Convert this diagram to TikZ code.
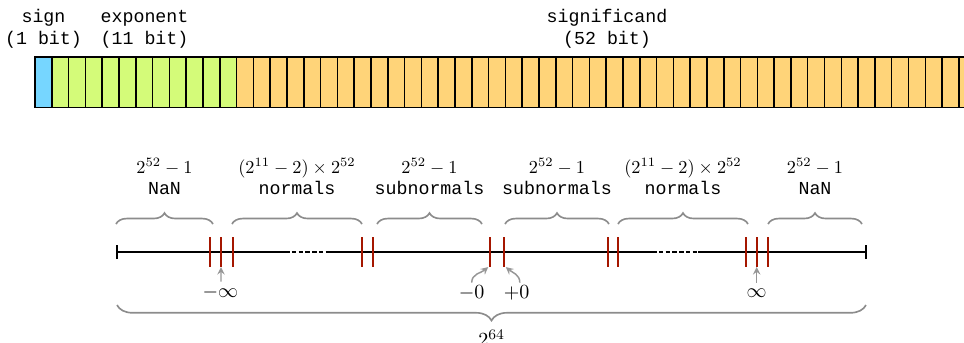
\documentclass[tikz,border=0pt]{standalone}
\usepackage{fontspec}
\setmonofont{Liberation Mono}
\usetikzlibrary{decorations.pathreplacing}
\definecolor{skyc}{RGB}{118,214,255}
\definecolor{dewc}{RGB}{212,251,121}
\definecolor{melc}{RGB}{255,212,121}
\definecolor{tickred}{RGB}{165,22,0}
\definecolor{bracegray}{RGB}{140,140,140}
\definecolor{arrowgray}{RGB}{150,150,150}
\begin{document}
\begin{tikzpicture}[
  cellline/.style={line width=0.8pt},
  bitlbl/.style={align=center,font=\ttfamily},
  numline/.style={thick},
  redtick/.style={line width=1.1pt,draw=tickred},
  brc/.style={decorate,decoration={brace,amplitude=6pt},draw=bracegray,line width=0.9pt},
  brlbl/.style={midway,above=12pt,align=center},
  ptlbl/.style={font=\fontsize{11}{13}\selectfont},
  ptarrow/.style={-stealth,draw=arrowgray,line width=0.8pt}]
\useasboundingbox (0,0) rectangle (18.53,-6.593);
\clip (0,0) rectangle (18.53,-6.593);
% the 64 bits
\node[bitlbl] (sgn) at (0.836,-0.557) {sign\\(1 bit)};
\node[bitlbl] (expo) at (2.778,-0.557) {exponent\\(11 bit)};
\node[bitlbl] (sig) at (11.668,-0.557) {significand\\(52 bit)};
\begin{scope}[shift={(0.673,-2.066)}]
\fill[skyc] (0,0) rectangle (0.3229,0.971);
\fill[dewc] (0.3229,0) rectangle (3.8748,0.971);
\fill[melc] (3.8748,0) rectangle (20.666,0.971);
\draw[cellline] (0,0) grid[xstep=0.3229,ystep=0.971] (20.666,0.971);
\draw[cellline] (0,0) rectangle (20.666,0.971);
\end{scope}
% number line
\coordinate (L) at (2.249,-4.844);
\coordinate (R) at (16.646,-4.844);
\coordinate (d1) at (5.478,-4.844);
\coordinate (d2) at (6.305,-4.844);
\coordinate (d3) at (12.533,-4.844);
\coordinate (d4) at (13.417,-4.844);
\draw[numline] (L) -- (d1) (d2) -- (d3) (d4) -- (R);
\draw[numline,dash pattern=on 2.5pt off 1.2pt] (d1) -- (d2) (d3) -- (d4);
\draw[numline] ([yshift=-0.135cm]L) -- ([yshift=0.135cm]L);
\draw[numline] ([yshift=-0.135cm]R) -- ([yshift=0.135cm]R);
\foreach \x [count=\n] in {4.037,4.248,4.473,6.958,7.164,9.419,9.688,11.681,11.873,14.340,14.545,14.768}{
  \coordinate (t\n) at (\x,-4.844);
  \draw[redtick] ([yshift=-0.288cm]t\n) -- ([yshift=0.288cm]t\n);
}
% counts
\foreach \a/\b/\n/\v/\k in {2.23/4.094/1/{2^{52}-1}/NaN,
    4.459/6.958/2/{(2^{11}-2)\times 2^{52}}/normals,
    7.247/9.265/3/{2^{52}-1}/subnormals,
    9.707/11.706/4/{2^{52}-1}/subnormals,
    11.879/14.378/5/{(2^{11}-2)\times 2^{52}}/normals,
    14.763/16.569/6/{2^{52}-1}/NaN}
  \draw[brc] (\a,-4.306) -- (\b,-4.306) node[brlbl] (cnt\n) {$\v$\\\texttt{\k}};
\draw[brc,decoration={brace,mirror,amplitude=8.5pt}] (2.249,-5.863) -- (16.646,-5.863)
  node[midway,below=10pt,ptlbl] (total) {$2^{64}$};
% special values
\node[ptlbl] (ninf) at (4.235,-5.613) {$-\infty$};
\node[ptlbl] (mzero) at (9.067,-5.632) {$-0$};
\node[ptlbl] (pzero) at (9.932,-5.632) {$+0$};
\node[ptlbl] (pinf) at (14.545,-5.632) {$\infty$};
\draw[ptarrow] ([xshift=0.013cm,yshift=0.2cm]ninf.center) -- ([yshift=-0.29cm]t2);
\draw[ptarrow] ([yshift=0.2cm]pinf.center) -- ([yshift=-0.29cm]t11);
\draw[ptarrow] ([yshift=0.2cm]mzero.center) to[out=90,in=220] ([xshift=-1pt,yshift=-0.29cm]t6);
\draw[ptarrow] ([xshift=0.06cm,yshift=0.2cm]pzero.center) to[out=90,in=-40] ([xshift=1pt,yshift=-0.29cm]t7);
\end{tikzpicture}
\end{document}
